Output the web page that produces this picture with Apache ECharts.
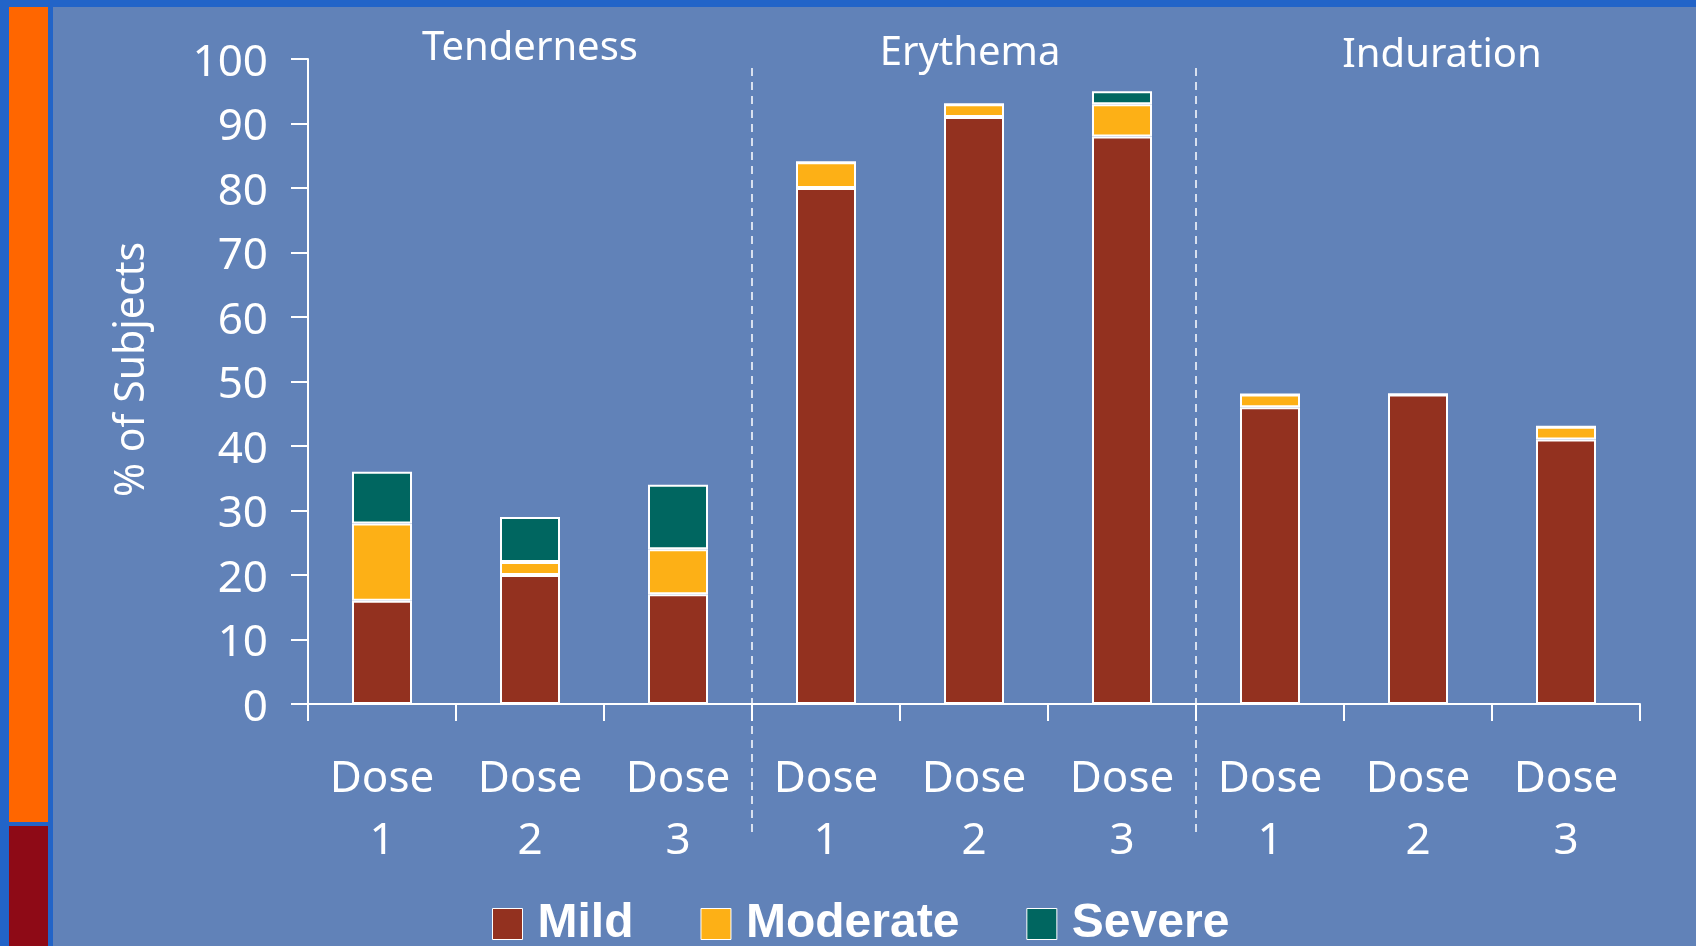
<!DOCTYPE html>
<html>
<head>
<meta charset="utf-8">
<script src="https://cdn.jsdelivr.net/npm/echarts@6/dist/echarts.min.js"></script>
<style>
    html, body { margin: 0; padding: 0; }
    body { width: 1696px; height: 946px; background: #2264c8; position: relative; overflow: hidden; }
    .stripe { position: absolute; left: 9px; width: 39px; }
    #panel { position: absolute; left: 53px; top: 7px; right: 0; bottom: 0; background: #6182b8; }
    #chart { position: absolute; left: 0; top: 0; width: 1696px; height: 946px; }
</style>
</head>
<body>
<div class="stripe" style="top:7px;height:815px;background:#ff6600;"></div>
<div class="stripe" style="top:826px;height:120px;background:#8e0a16;"></div>
<div id="panel"></div>
<div id="chart"></div>
<script>
    // categories: 3 groups x 3 doses
    var groups = ["Tenderness", "Erythema", "Induration"];
    var doses = ["Dose\n1", "Dose\n2", "Dose\n3", "Dose\n1", "Dose\n2", "Dose\n3", "Dose\n1", "Dose\n2", "Dose\n3"];
    var yTicks = [0, 10, 20, 30, 40, 50, 60, 70, 80, 90, 100];
    // % of subjects by severity
    var mild = [16, 20, 17, 80, 91, 88, 46, 48, 41];
    var moderate = [12, 2, 7, 4, 2, 5, 2, 0, 2];
    var severe = [8, 7, 10, 0, 0, 2, 0, 0, 0];

    var white = "#ffffff";
    var font = "'Noto Sans', sans-serif";
    var chart = echarts.init(document.getElementById("chart"));

    function barSeries(name, data, color) {
        return {
            name: name,
            type: "bar",
            stack: "total",
            barWidth: 60,
            data: data,
            itemStyle: {
                color: color,
                borderColor: white,
                borderWidth: 2
            }
        };
    }

    var option = {
        animation: false,
        backgroundColor: "transparent",
        grid: { left: 308, right: 56, top: 59, bottom: 242 },
        xAxis: {
            type: "category",
            data: doses,
            axisLine: { lineStyle: { color: white, width: 2 } },
            axisTick: { show: true, interval: 0, length: 17, lineStyle: { color: white, width: 2 } },
            axisLabel: {
                color: white,
                fontFamily: font,
                fontSize: 44,
                lineHeight: 62,
                margin: 44
            }
        },
        yAxis: {
            type: "value",
            min: yTicks[0],
            max: yTicks[yTicks.length - 1],
            interval: 10,
            name: "% of Subjects",
            nameLocation: "middle",
            nameRotate: 90,
            nameGap: 155,
            nameTextStyle: {
                color: white,
                fontFamily: font,
                fontSize: 41,
                padding: [0, 0, 0, 24]
            },
            splitLine: { show: false },
            axisLine: { show: true, lineStyle: { color: white, width: 2 } },
            axisTick: { show: true, length: 17, lineStyle: { color: white, width: 2 } },
            axisLabel: {
                margin: 40,
                formatter: "{v|{value}}",
                rich: {
                    v: {
                        color: white,
                        fontFamily: font,
                        fontSize: 44,
                        padding: [8, 0, 0, 0]
                    }
                }
            }
        },
        legend: {
            left: 487,
            top: 895,
            itemWidth: 30,
            itemHeight: 31,
            itemGap: 67,
            icon: "rect",
            itemStyle: { borderWidth: 1, borderColor: white },
            textStyle: {
                color: white,
                fontFamily: "'Liberation Sans', Arial, sans-serif",
                fontWeight: "bold",
                fontSize: 48,
                lineHeight: 48,
                padding: [0, 0, 0, 10]
            },
            data: ["Mild", "Moderate", "Severe"]
        },
        series: [
            barSeries("Mild", mild, "#93311f"),
            barSeries("Moderate", moderate, "#fdb016"),
            barSeries("Severe", severe, "#006660")
        ]
    };
    chart.setOption(option);

    // group titles and dashed separators, placed from the category axis
    var graphics = [];
    var titleNudge = [0, -4, 24];
    var titleY = [49, 54, 56];
    for (var g = 0; g < groups.length; g++) {
        var mid = chart.convertToPixel({ xAxisIndex: 0 }, g * 3 + 1);
        graphics.push({
            type: "text",
            x: mid + titleNudge[g],
            y: titleY[g],
            style: {
                text: groups[g],
                fill: white,
                font: "40px " + font,
                textAlign: "center",
                textVerticalAlign: "middle"
            }
        });
        if (g > 0) {
            var left = chart.convertToPixel({ xAxisIndex: 0 }, g * 3 - 1);
            var right = chart.convertToPixel({ xAxisIndex: 0 }, g * 3);
            var bx = (left + right) / 2;
            graphics.push({
                type: "line",
                shape: { x1: bx, y1: 68, x2: bx, y2: 832 },
                style: { stroke: white, lineWidth: 1.5, lineDash: [8, 6] }
            });
        }
    }
    chart.setOption({ graphic: graphics });
</script>
</body>
</html>
